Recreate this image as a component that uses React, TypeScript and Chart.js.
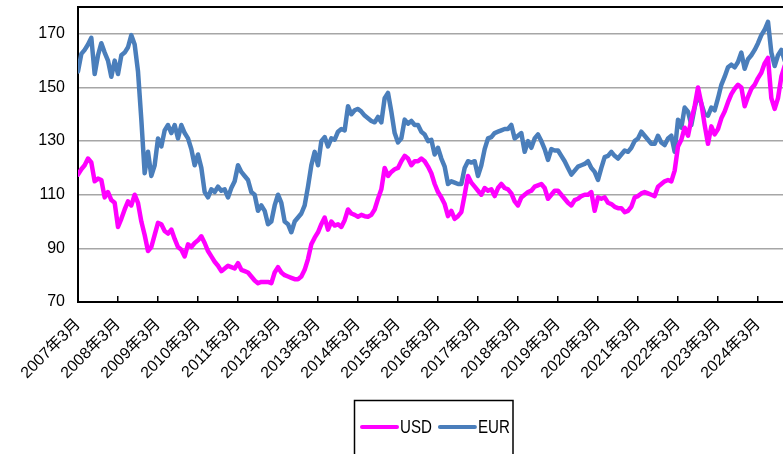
import React, { useEffect, useRef } from "react";
import { Chart, registerables } from "chart.js";

Chart.register(...registerables);

// Months counted from 2007年3月 (index 0), one value per month
const startYear = 2007;
const tickMonths = [0, 12, 24, 36, 48, 60, 72, 84, 96, 108, 120, 132, 144, 156, 168, 180, 192, 204];
const tickLabels = tickMonths.map((m) => `${startYear + m / 12}年3月`);
const yTicks = [70, 90, 110, 130, 150, 170];

const usd = [
  117.5, 119.5, 121, 123.5, 122, 115, 116, 115.5, 109, 111, 108, 107,
  98, 101, 104.5, 107.5, 106, 110, 107, 100, 95, 89, 90.5, 95,
  99.5, 99, 96.5, 95.5, 97, 93.5, 90.5, 89.5, 87, 91.5, 90.5, 92,
  93, 94.5, 92, 89, 87, 85, 83.5, 81.5, 82.5, 83.5, 83, 82.5,
  84.5, 82, 81.5, 81, 79.5, 78, 77, 77.5, 77.5, 77.5, 77, 81,
  83, 81, 80, 79.5, 79, 78.5, 78.5, 79.5, 82, 86, 91.5, 94,
  96, 99, 101.5, 97, 100, 98.5, 99, 98, 100.5, 104.5, 103, 102.5,
  101.8, 102.5, 102, 101.8, 102.5, 104.5, 108.5, 112, 120, 117, 118.5, 119.5,
  120, 122.5, 124.5, 123.5, 121, 122.5, 122.5, 123.5, 122.5, 120.5, 118, 114,
  111, 109, 106.5, 102, 104, 101, 102, 103.5, 110, 117, 114.5, 113,
  111.5, 110, 112.5, 111.5, 112, 109.5, 112.5, 114, 112.5, 112, 110.5, 107.5,
  106, 109, 110, 111, 111.5, 113, 113.5, 114, 112.5, 108.5, 110, 111.5,
  111.5, 110, 108.5, 107, 106, 108, 108.5, 109.5, 110, 110, 111, 104,
  109, 108.5, 109, 107, 106.5, 105.5, 105, 105, 103.5, 104, 105.5, 109,
  109.5, 110.5, 111, 110.5, 110, 109.5, 113, 114, 115, 115.5, 115, 119,
  128, 130.5, 135, 132, 138, 143, 150, 144, 136, 129, 135.5, 132.5,
  134.5, 138.5, 141, 144.5, 147.5, 149.5, 151, 150, 143, 146.5, 149.5, 151,
  153.5, 155.5, 159, 161, 146, 142, 146, 154, 158,
];

const eur = [
  156, 162.5, 164, 166, 168.5, 155, 162, 166.5, 163, 160, 154, 160,
  155, 162, 163, 165, 169.5, 166, 156, 138, 118, 126, 117, 121,
  131, 128, 134, 136, 133, 136, 131, 136, 133, 131, 127, 121,
  125, 120, 111, 109, 112, 111, 113, 111.5, 112, 109, 112.5, 115,
  121, 118.5, 117, 115.5, 111, 110, 104, 106, 104, 99, 100, 106,
  110, 107, 100, 99, 96, 100, 101.5, 103, 106, 113, 121, 126,
  121, 130, 131.5, 128, 131, 130.5, 133.5, 134.5, 134, 143, 140, 141.5,
  142, 141, 139.5, 138.5, 137.5, 137, 139, 137, 146, 148, 141, 133,
  129.5, 131, 138, 136.5, 137.5, 136, 136, 133.5, 132.5, 130, 130.5, 125,
  127.5, 123.5, 120.5, 114, 115, 114.5, 114, 114, 120, 122.5, 122, 122.5,
  117, 121, 127, 131, 131.5, 133, 133.5, 134, 134.5, 134.5, 136, 131,
  132, 133, 126, 130, 127.5, 131, 132.5, 130, 127, 123, 127, 126.5,
  126.5, 124.5, 122.5, 120, 117.5, 119, 120.5, 121, 121.5, 122.5, 120, 118.5,
  115.5, 120, 124, 124.5, 126, 124.5, 123.5, 125, 126.5, 126, 127.5, 130,
  131, 133.5, 132, 130.5, 129, 129, 132, 129.5, 128.5, 131, 132, 126,
  138, 135, 142.5, 141, 136, 142.5, 147.5, 144, 140, 139.5, 142.5, 141.5,
  146, 151, 154, 157.5, 158.5, 157.5, 159.5, 163, 157, 160.5, 162, 164,
  166.5, 169.5, 171.5, 174.5, 163, 158, 162, 164, 160,
];

const FONT = '"Liberation Sans", "Noto Sans CJK JP", sans-serif';
const LEGEND_FONT = '18px "Liberation Sans", sans-serif';

const framePlugin = {
  id: "frameAndLegend",
  afterDraw(chart: any) {
    const ctx = chart.ctx;
    const a = chart.chartArea;
    ctx.save();
    // top frame line
    ctx.strokeStyle = "#000";
    ctx.lineWidth = 2;
    ctx.beginPath();
    ctx.moveTo(a.left, a.top);
    ctx.lineTo(a.right, a.top);
    ctx.stroke();
    // legend box
    ctx.lineWidth = 1.5;
    ctx.strokeRect(354.5, 400.5, 158.5, 80);
    let x = 362;
    const y = 427;
    ctx.font = LEGEND_FONT;
    ctx.textBaseline = "middle";
    ctx.textAlign = "left";
    const squeeze = 0.84;
    chart.data.datasets.forEach((ds: any) => {
      ctx.strokeStyle = ds.borderColor;
      ctx.lineWidth = 4;
      ctx.lineCap = "round";
      ctx.beginPath();
      ctx.moveTo(x, y);
      ctx.lineTo(x + 35, y);
      ctx.stroke();
      x += 38;
      ctx.fillStyle = "#000";
      ctx.save();
      ctx.translate(x, y + 1);
      ctx.scale(squeeze, 1);
      ctx.fillText(ds.label, 0, 0);
      ctx.restore();
      x += ctx.measureText(ds.label).width * squeeze + 8;
    });
    ctx.restore();
  },
};

export default function App() {
  const ref = useRef<HTMLCanvasElement | null>(null);

  useEffect(() => {
    document.body.style.margin = "0";
    const canvas = ref.current;
    if (!canvas) return;
    const lineStyle = {
      borderWidth: 4.5,
      pointRadius: 0,
      tension: 0,
      borderJoinStyle: "round",
      borderCapStyle: "round",
    };
    const chart = new Chart(canvas, {
      type: "line",
      data: {
        datasets: [
          {
            label: "USD",
            data: usd.map((v, i) => ({ x: i, y: v })),
            borderColor: "#ff00ff",
            backgroundColor: "#ff00ff",
            ...lineStyle,
          },
          {
            label: "EUR",
            data: eur.map((v, i) => ({ x: i, y: v })),
            borderColor: "#4a7ebb",
            backgroundColor: "#4a7ebb",
            ...lineStyle,
          },
        ],
      },
      options: {
        animation: false,
        responsive: false,
        events: [],
        layout: { padding: { top: 7, right: 0, left: 0, bottom: 0 } },
        plugins: { legend: { display: false }, tooltip: { enabled: false } },
        scales: {
          x: {
            type: "linear",
            min: 0,
            max: 211.5,
            afterBuildTicks: (s: any) => {
              s.ticks = tickMonths.map((v) => ({ value: v }));
            },
            afterFit: (s: any) => {
              s.height = 152;
              s.paddingLeft = 0;
              s.paddingRight = 0;
              s.paddingTop = 0;
              s.paddingBottom = 0;
            },
            ticks: {
              autoSkip: false,
              minRotation: 45,
              maxRotation: 45,
              padding: 19,
              color: "#000",
              font: { family: FONT, size: 16 },
              callback: (v: any) => tickLabels[tickMonths.indexOf(Number(v))] ?? "",
            },
            grid: {
              drawOnChartArea: false,
              drawTicks: true,
              tickLength: -6,
              color: "#000",
              lineWidth: 1.5,
            },
            border: { color: "#000", width: 2 },
          },
          y: {
            min: 70,
            max: 180,
            afterBuildTicks: (s: any) => {
              s.ticks = yTicks.map((v) => ({ value: v }));
            },
            afterFit: (s: any) => {
              s.width = 78;
              s.paddingTop = 0;
              s.paddingBottom = 0;
              s.paddingLeft = 0;
              s.paddingRight = 0;
            },
            ticks: {
              padding: 13,
              color: "#000",
              font: { family: FONT, size: 16 },
            },
            grid: { color: "#a6a6a6", lineWidth: 1.5, drawTicks: false },
            border: { color: "#000", width: 2 },
          },
        },
      },
      plugins: [framePlugin],
    } as any);
    return () => chart.destroy();
  }, []);

  return (
    <div style={{ width: 783, height: 454, position: "relative", overflow: "hidden" }}>
      <canvas ref={ref} width={783} height={454} style={{ display: "block" }} />
    </div>
  );
}
